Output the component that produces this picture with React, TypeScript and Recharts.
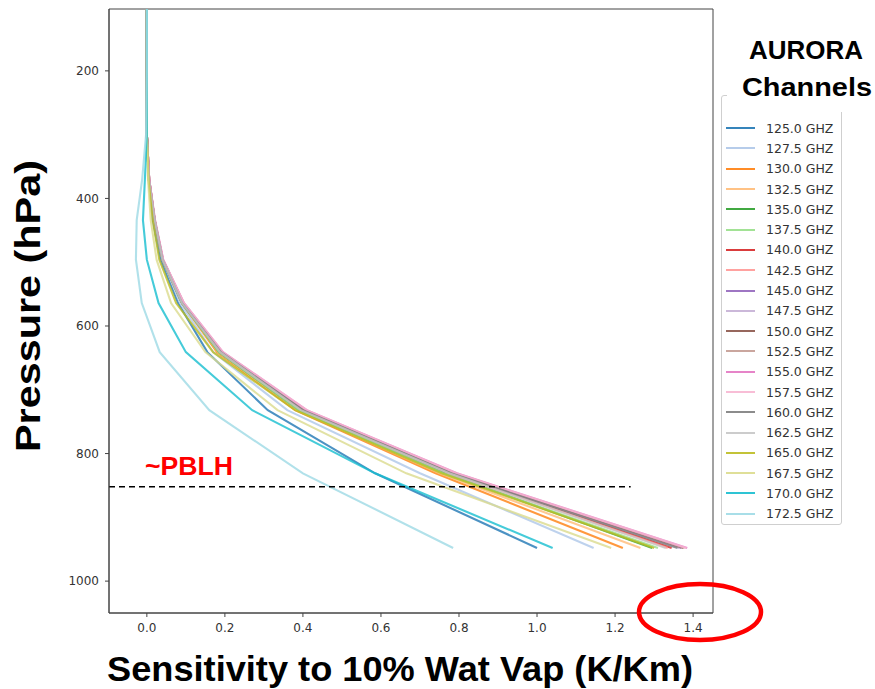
import React from 'react';
import {
  LineChart,
  Line,
  XAxis,
  YAxis,
  ReferenceLine,
  ReferenceArea
} from 'recharts';

// pressure levels (hPa), top of the profile to the surface
const PRESSURE = [100, 200, 300, 370, 434, 496, 564, 641, 732, 831, 948];

// sensitivity (K/Km) for each channel at the levels above
const S125 = [0, 0, 0, 0.005, 0.015, 0.035, 0.08, 0.155, 0.31, 0.585, 1.0];
const S127 = [0, 0, 0, 0.005, 0.018, 0.04, 0.085, 0.17, 0.36, 0.7, 1.145];
const S130 = [0, 0, 0, 0.005, 0.02, 0.04, 0.09, 0.18, 0.38, 0.74, 1.22];
const S132 = [0, 0, 0, 0.005, 0.02, 0.04, 0.09, 0.183, 0.385, 0.75, 1.265];
const S135 = [0, 0, 0, 0.005, 0.02, 0.04, 0.09, 0.185, 0.39, 0.765, 1.295];
const S137 = [0, 0, 0, 0.005, 0.02, 0.04, 0.09, 0.185, 0.39, 0.76, 1.31];
const S140 = [0, 0, 0, 0.006, 0.02, 0.041, 0.092, 0.19, 0.4, 0.78, 1.345];
const S142 = [0, 0, 0, 0.006, 0.02, 0.041, 0.092, 0.19, 0.4, 0.775, 1.335];
const S145 = [0, 0, 0, 0.006, 0.02, 0.041, 0.093, 0.192, 0.405, 0.785, 1.37];
const S147 = [0, 0, 0, 0.006, 0.02, 0.041, 0.093, 0.192, 0.405, 0.785, 1.365];
const S150 = [0, 0, 0, 0.006, 0.02, 0.041, 0.094, 0.193, 0.405, 0.788, 1.375];
const S152 = [0, 0, 0, 0.006, 0.02, 0.041, 0.094, 0.193, 0.407, 0.79, 1.378];
const S155 = [0, 0, 0, 0.006, 0.021, 0.042, 0.095, 0.195, 0.41, 0.795, 1.385];
const S157 = [0, 0, 0, 0.006, 0.021, 0.042, 0.095, 0.195, 0.41, 0.793, 1.383];
const S160 = [0, 0, 0, 0.005, 0.02, 0.04, 0.09, 0.19, 0.4, 0.78, 1.36];
const S162 = [0, 0, 0, 0.005, 0.02, 0.04, 0.09, 0.188, 0.395, 0.775, 1.33];
const S165 = [0, 0, 0, 0.004, 0.015, 0.032, 0.075, 0.17, 0.38, 0.755, 1.3];
const S167 = [0, 0, 0, 0.003, 0.01, 0.025, 0.062, 0.15, 0.335, 0.665, 1.19];
const S170 = [0, 0, 0, -0.005, -0.01, 0.0, 0.03, 0.1, 0.27, 0.585, 1.04];
const S172 = [0, 0, -0.002, -0.012, -0.026, -0.028, -0.013, 0.033, 0.16, 0.4, 0.785];

const CHANNELS = [
  '125.0 GHZ', '127.5 GHZ', '130.0 GHZ', '132.5 GHZ', '135.0 GHZ',
  '137.5 GHZ', '140.0 GHZ', '142.5 GHZ', '145.0 GHZ', '147.5 GHZ',
  '150.0 GHZ', '152.5 GHZ', '155.0 GHZ', '157.5 GHZ', '160.0 GHZ',
  '162.5 GHZ', '165.0 GHZ', '167.5 GHZ', '170.0 GHZ', '172.5 GHZ'
];

const SERIES = [
  S125, S127, S130, S132, S135, S137, S140, S142, S145, S147,
  S150, S152, S155, S157, S160, S162, S165, S167, S170, S172
];

// tab20
const COLORS = [
  '#1f77b4', '#aec7e8', '#ff7f0e', '#ffbb78', '#2ca02c',
  '#98df8a', '#d62728', '#ff9896', '#9467bd', '#c5b0d5',
  '#8c564b', '#c49c94', '#e377c2', '#f7b6d2', '#7f7f7f',
  '#c7c7c7', '#bcbd22', '#dbdb8d', '#17becf', '#9edae5'
];

const X_TICKS = [0, 0.2, 0.4, 0.6, 0.8, 1.0, 1.2, 1.4];
const Y_TICKS = [200, 400, 600, 800, 1000];
const PBLH = 852;

const X_DOMAIN: [number, number] = [-0.097, 1.451];
const Y_DOMAIN: [number, number] = [103, 1050];

const LINE_ALPHA = 0.8;
const AXIS_COLOR = '#444';
const TICK_STYLE = { fontFamily: 'DejaVu Sans', fontSize: 12, fill: '#333' };

// one row per pressure level, one column per channel
const data = PRESSURE.map((p, i) => {
  const row: Record<string, number> = { p };
  SERIES.forEach((s, k) => {
    row[`c${k}`] = s[i];
  });
  return row;
});

// legend box drawn next to the plot, like the matplotlib one
const ChannelLegend: React.FC = () => (
  <div
    style={{
      position: 'absolute',
      left: 721,
      top: 95,
      width: 121,
      height: 430,
      boxSizing: 'border-box',
      border: '1px solid #cfcfcf',
      borderRadius: 3,
      background: '#fff',
      paddingTop: 22,
      paddingLeft: 4
    }}
  >
    {CHANNELS.map((name, i) => (
      <div
        key={name}
        style={{ display: 'flex', alignItems: 'center', height: 20.3 }}
      >
        <div
          style={{
            width: 29,
            height: 2,
            background: COLORS[i],
            opacity: LINE_ALPHA + 0.1,
            marginRight: 11
          }}
        />
        <span
          style={{
            fontFamily: 'DejaVu Sans',
            fontSize: 12.5,
            color: '#333',
            whiteSpace: 'nowrap'
          }}
        >
          {name}
        </span>
      </div>
    ))}
  </div>
);

const App: React.FC = () => {
  return (
    <div
      style={{
        position: 'absolute',
        left: 0,
        top: 0,
        width: 875,
        height: 689,
        background: '#fff',
        overflow: 'hidden'
      }}
    >
      <LineChart
        width={875}
        height={689}
        data={data}
        layout="vertical"
        margin={{ top: 9, right: 162, left: 0, bottom: 0 }}
      >
        <XAxis
          type="number"
          domain={X_DOMAIN}
          allowDataOverflow
          ticks={X_TICKS}
          tickFormatter={(v: number) => v.toFixed(1)}
          height={76}
          stroke={AXIS_COLOR}
          tickSize={4}
          tickMargin={6}
          tick={TICK_STYLE}
        />
        <YAxis
          type="number"
          dataKey="p"
          domain={Y_DOMAIN}
          allowDataOverflow
          ticks={Y_TICKS}
          width={109}
          stroke={AXIS_COLOR}
          tickSize={4}
          tickMargin={6}
          tick={TICK_STYLE}
        />
        <ReferenceArea
          x1={X_DOMAIN[0]}
          x2={X_DOMAIN[1]}
          y1={Y_DOMAIN[0]}
          y2={Y_DOMAIN[1]}
          fill="none"
          stroke={AXIS_COLOR}
          strokeWidth={1}
        />
        {CHANNELS.map((name, i) => (
          <Line
            key={name}
            name={name}
            dataKey={`c${i}`}
            type="linear"
            stroke={COLORS[i]}
            strokeOpacity={LINE_ALPHA}
            strokeWidth={2.1}
            dot={false}
            activeDot={false}
            isAnimationActive={false}
          />
        ))}
        <ReferenceLine
          segment={[
            { x: X_DOMAIN[0], y: PBLH },
            { x: 1.24, y: PBLH }
          ]}
          stroke="#000"
          strokeWidth={1.5}
          strokeDasharray="6 4"
        />
      </LineChart>

      <ChannelLegend />

      <svg
        width={875}
        height={689}
        style={{ position: 'absolute', left: 0, top: 0, pointerEvents: 'none' }}
      >
        <rect x={727} y={62} width={148} height={50} fill="#fff" />
        <text
          x={806}
          y={59}
          textAnchor="middle"
          fontFamily="Liberation Sans"
          fontWeight="bold"
          fontSize={25}
          fill="#000"
          textLength={114}
          lengthAdjust="spacingAndGlyphs"
        >
          AURORA
        </text>
        <text
          x={807}
          y={96}
          textAnchor="middle"
          fontFamily="Liberation Sans"
          fontWeight="bold"
          fontSize={25}
          fill="#000"
          textLength={130}
          lengthAdjust="spacingAndGlyphs"
        >
          Channels
        </text>
        <text
          x={145}
          y={475}
          fontFamily="Liberation Sans"
          fontWeight="bold"
          fontSize={25}
          fill="#ff0000"
          textLength={88}
          lengthAdjust="spacingAndGlyphs"
        >
          ~PBLH
        </text>
        <text
          x={400}
          y={681}
          textAnchor="middle"
          fontFamily="Liberation Sans"
          fontWeight="bold"
          fontSize={35}
          fill="#000"
          textLength={586}
          lengthAdjust="spacingAndGlyphs"
        >
          Sensitivity to 10% Wat Vap (K/Km)
        </text>
        <text
          x={40}
          y={306}
          textAnchor="middle"
          transform="rotate(-90 40 306)"
          fontFamily="Liberation Sans"
          fontWeight="bold"
          fontSize={35}
          fill="#000"
          textLength={292}
          lengthAdjust="spacingAndGlyphs"
        >
          Pressure (hPa)
        </text>
        <ellipse
          cx={700}
          cy={612}
          rx={61}
          ry={28}
          fill="none"
          stroke="#ff0000"
          strokeWidth={4.5}
        />
      </svg>
    </div>
  );
};

export default App;
